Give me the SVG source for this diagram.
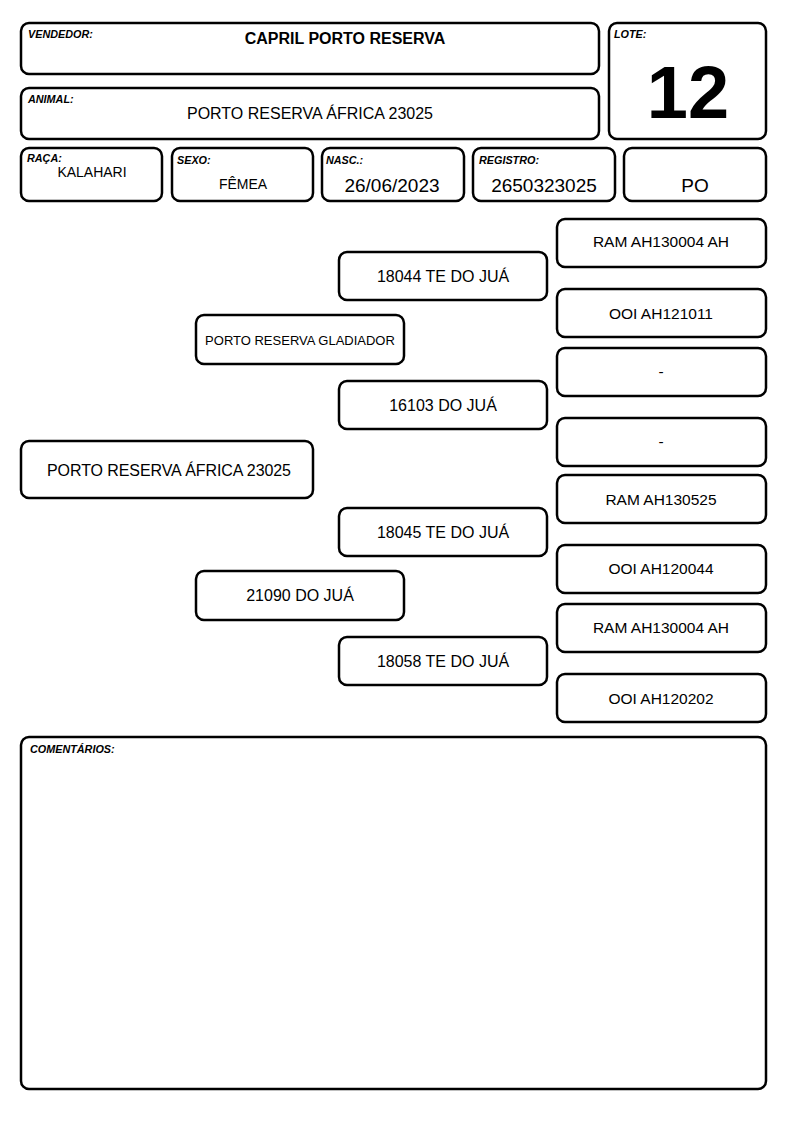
<svg xmlns="http://www.w3.org/2000/svg" width="794" height="1123" viewBox="0 0 794 1123">
<style>
.box{fill:#fff;stroke:#000;stroke-width:2.5}
.lbl{font-family:"Liberation Sans",Arial,sans-serif;font-size:10.8px;font-weight:bold;font-style:italic;fill:#000}
.t{font-family:"Liberation Sans",Arial,sans-serif;font-size:16px;fill:#000;text-anchor:middle}
.s{font-family:"Liberation Sans",Arial,sans-serif;font-size:15.5px;fill:#000;text-anchor:middle}
</style>
<rect width="794" height="1123" fill="#fff"/>
<g id="vendedor"><rect class="box" x="21" y="23" width="578" height="51" rx="8"/><text class="lbl" x="28" y="38">VENDEDOR:</text><text class="t" x="345" y="44" style="font-weight:bold">CAPRIL PORTO RESERVA</text></g>
<g id="animal"><rect class="box" x="21" y="88" width="578" height="51" rx="8"/><text class="lbl" x="28" y="103">ANIMAL:</text><text class="t" x="310" y="119">PORTO RESERVA ÁFRICA 23025</text></g>
<g id="lote"><rect class="box" x="609" y="23" width="157" height="116" rx="8"/><text class="lbl" x="614" y="38">LOTE:</text><text class="t" x="688" y="118" style="font-size:74px;font-weight:bold">12</text></g>
<g id="raca"><rect class="box" x="21" y="148" width="141" height="53" rx="8"/><text class="lbl" x="27" y="162">RAÇA:</text><text class="t" x="92" y="177" style="font-size:14px">KALAHARI</text></g>
<g id="sexo"><rect class="box" x="172" y="148" width="141" height="53" rx="8"/><text class="lbl" x="177" y="164">SEXO:</text><text class="t" x="243" y="189" style="font-size:14px">FÊMEA</text></g>
<g id="nasc"><rect class="box" x="322" y="148" width="142" height="53" rx="8"/><text class="lbl" x="326" y="164">NASC.:</text><text class="t" x="392" y="192" style="font-size:19px">26/06/2023</text></g>
<g id="registro"><rect class="box" x="473" y="148" width="142" height="53" rx="8"/><text class="lbl" x="479" y="164">REGISTRO:</text><text class="t" x="544" y="192" style="font-size:19px">2650323025</text></g>
<g id="po"><rect class="box" x="624" y="148" width="142" height="53" rx="8"/><text class="t" x="695" y="192" style="font-size:19px">PO</text></g>
<g id="connectors"></g>
<g id="main"><rect class="box" x="21" y="441" width="292" height="57" rx="8"/><text class="t" x="169" y="476" textLength="244">PORTO RESERVA ÁFRICA 23025</text></g>
<g id="sire"><rect class="box" x="196" y="315" width="208" height="49" rx="8"/><text class="t" x="300" y="345" style="font-size:13px">PORTO RESERVA GLADIADOR</text></g>
<g id="dam"><rect class="box" x="196" y="571" width="208" height="49" rx="8"/><text class="t" x="300" y="601">21090 DO JUÁ</text></g>
<g id="ss"><rect class="box" x="339" y="252" width="208" height="48" rx="8"/><text class="t" x="443" y="282">18044 TE DO JUÁ</text></g>
<g id="sd"><rect class="box" x="339" y="381" width="208" height="48" rx="8"/><text class="t" x="443" y="411">16103 DO JUÁ</text></g>
<g id="ds"><rect class="box" x="339" y="508" width="208" height="48" rx="8"/><text class="t" x="443" y="538">18045 TE DO JUÁ</text></g>
<g id="dd"><rect class="box" x="339" y="637" width="208" height="48" rx="8"/><text class="t" x="443" y="667">18058 TE DO JUÁ</text></g>
<g id="g1"><rect class="box" x="557" y="219" width="209" height="48" rx="8"/><text class="s" x="661" y="247">RAM AH130004 AH</text></g>
<g id="g2"><rect class="box" x="557" y="289" width="209" height="48" rx="8"/><text class="s" x="661" y="319">OOI AH121011</text></g>
<g id="g3"><rect class="box" x="557" y="348" width="209" height="48" rx="8"/><text class="s" x="661" y="377">-</text></g>
<g id="g4"><rect class="box" x="557" y="418" width="209" height="48" rx="8"/><text class="s" x="661" y="447">-</text></g>
<g id="g5"><rect class="box" x="557" y="475" width="209" height="48" rx="8"/><text class="s" x="661" y="505">RAM AH130525</text></g>
<g id="g6"><rect class="box" x="557" y="545" width="209" height="48" rx="8"/><text class="s" x="661" y="574">OOI AH120044</text></g>
<g id="g7"><rect class="box" x="557" y="604" width="209" height="48" rx="8"/><text class="s" x="661" y="633">RAM AH130004 AH</text></g>
<g id="g8"><rect class="box" x="557" y="674" width="209" height="48" rx="8"/><text class="s" x="661" y="704">OOI AH120202</text></g>
<g id="comentarios"><rect class="box" x="21" y="737" width="745" height="352" rx="8"/><text class="lbl" x="30" y="753">COMENTÁRIOS:</text></g>
</svg>
